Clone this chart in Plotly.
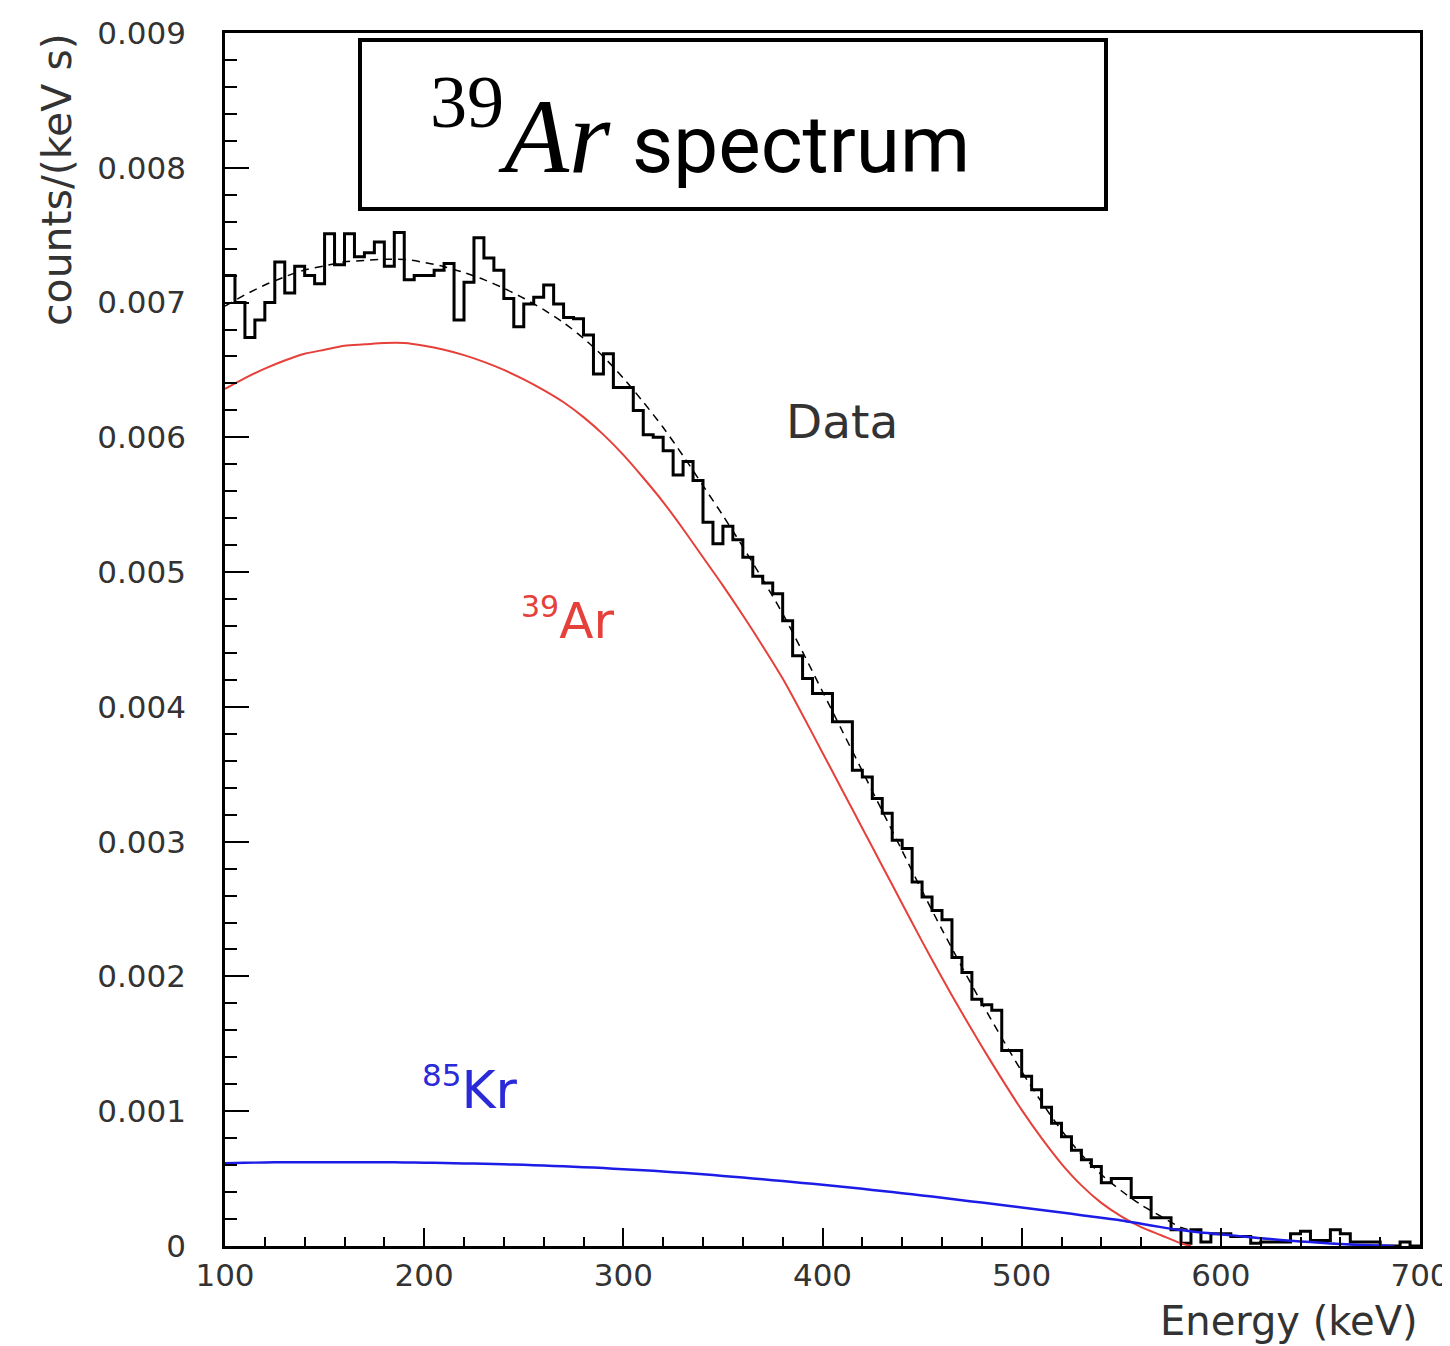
import numpy as np
import plotly.graph_objects as go

# ---------------- data ----------------
# histogram: 5 keV bins from 100 to 700 keV (counts/(keV s))
bin_width = 5
bin_left = np.arange(100, 700, bin_width)
data_counts = [
    0.00720, 0.00700, 0.00674, 0.00687, 0.00700, 0.00730, 0.00707, 0.00727, 0.00720, 0.00714,
    0.00751, 0.00728, 0.00751, 0.00734, 0.00737, 0.00745, 0.00727, 0.00752, 0.00717, 0.00720,
    0.00720, 0.00724, 0.00729, 0.00687, 0.00715, 0.00748, 0.00733, 0.00724, 0.00703, 0.00682,
    0.00699, 0.00704, 0.00713, 0.00699, 0.00689, 0.00688, 0.00676, 0.00647, 0.00662, 0.00637,
    0.00637, 0.00620, 0.00602, 0.00600, 0.00590, 0.00572, 0.00582, 0.00568, 0.00537, 0.00521,
    0.00534, 0.00524, 0.00511, 0.00497, 0.00492, 0.00484, 0.00464, 0.00438, 0.00421, 0.00410,
    0.00410, 0.00389, 0.00389, 0.00353, 0.00348, 0.00332, 0.00321, 0.00301, 0.00295, 0.00270,
    0.00259, 0.00249, 0.00242, 0.00214, 0.00203, 0.00183, 0.00179, 0.00175, 0.00145, 0.00145,
    0.00126, 0.00116, 0.00103, 0.00091, 0.00081, 0.00071, 0.00064, 0.00059, 0.00047, 0.00050,
    0.00050, 0.00036, 0.00036, 0.00021, 0.00021, 0.00012, 0.00002, 0.00012, 0.00003, 0.00009,
    0.00009, 0.00007, 0.00007, 0.00002, 0.00003, 0.00003, 0.00003, 0.00009, 0.00011, 0.00004,
    0.00004, 0.00012, 0.00009, 0.00003, 0.00003, 0.00003, 0.00000, 0.00000, 0.00003, 0.00000,
]

# 39Ar component (red)
ar_energy = [100, 110, 120, 130, 140, 150, 160, 170, 180, 190, 200, 210, 220, 230, 240, 250,
             260, 270, 280, 290, 300, 310, 320, 330, 340, 350, 360, 370, 380, 390, 400, 410,
             420, 430, 440, 450, 460, 470, 480, 490, 500, 510, 520, 530, 540, 550, 560, 570,
             580, 585]
ar_counts = [0.00636, 0.00644, 0.00651, 0.00657, 0.00662, 0.00665, 0.00668, 0.00669, 0.00670,
             0.00670, 0.00668, 0.00665, 0.00661, 0.00656, 0.00650, 0.00643, 0.00635, 0.00626,
             0.00615, 0.00602, 0.00587, 0.00570, 0.00552, 0.00532, 0.00511, 0.00490, 0.00468,
             0.00445, 0.00421, 0.00394, 0.00366, 0.00338, 0.00310, 0.00282, 0.00254, 0.00226,
             0.00199, 0.00173, 0.00148, 0.00124, 0.00101, 0.00080, 0.00061, 0.00045, 0.00032,
             0.00022, 0.00014, 0.00008, 0.00002, 0.0]

# 85Kr component (blue)
kr_energy = [100, 110, 120, 130, 140, 150, 160, 170, 180, 190, 200, 210, 220, 230, 240, 250,
             260, 270, 280, 290, 300, 310, 320, 330, 340, 350, 360, 370, 380, 390, 400, 410,
             420, 430, 440, 450, 460, 470, 480, 490, 500, 510, 520, 530, 540, 550, 560, 570,
             580, 590, 600, 610, 620, 630, 640, 650, 660, 670, 680, 687]
kr_counts = [0.000614, 0.000617, 0.000620, 0.000621, 0.000622, 0.000622, 0.000622, 0.000622,
             0.000621, 0.000620, 0.000618, 0.000616, 0.000613, 0.000610, 0.000606, 0.000602,
             0.000597, 0.000591, 0.000585, 0.000578, 0.000570, 0.000562, 0.000553, 0.000543,
             0.000532, 0.000520, 0.000508, 0.000495, 0.000482, 0.000468, 0.000454, 0.000439,
             0.000424, 0.000408, 0.000392, 0.000375, 0.000358, 0.000340, 0.000322, 0.000304,
             0.000286, 0.000267, 0.000248, 0.000229, 0.000210, 0.000190, 0.000165, 0.000140,
             0.000118, 0.000100, 0.000088, 0.000072, 0.000058, 0.000045, 0.000034, 0.000024,
             0.000015, 0.000008, 0.000003, 0.0]

# total fit (dashed) = 39Ar + 85Kr
n_common = 49  # 100..580 keV shared grid
fit_energy = kr_energy
fit_counts = [a + k for a, k in zip(ar_counts[:n_common], kr_counts[:n_common])] + kr_counts[n_common:]

x_ticks = [100, 200, 300, 400, 500, 600, 700]
y_ticks = [0, 0.001, 0.002, 0.003, 0.004, 0.005, 0.006, 0.007, 0.008, 0.009]
y_ticktext = ["0", "0.001", "0.002", "0.003", "0.004", "0.005", "0.006", "0.007", "0.008", "0.009"]

# ---------------- figure ----------------
OFF = 8  # default page margin of the html body
PAGE_W, PAGE_H = 1450, 1346
W, H = PAGE_W - OFF, PAGE_H - OFF
# plot area in page pixels
PL, PR, PT, PB = 225, 1420, 33, 1246
ML, MR, MT, MB = PL - OFF, PAGE_W - PR, PT - OFF, PAGE_H - PB
PW, PH = PR - PL, PB - PT


def px(xp):
    return (xp - PL) / PW


def py(yp):
    return (PB - yp) / PH


hist_x = list(bin_left) + [700]
hist_y = list(data_counts) + [data_counts[-1]]

fig = go.Figure()
fig.add_trace(go.Scatter(x=hist_x, y=hist_y, mode="lines", line=dict(color="black", width=3, shape="hv"),
                         hoverinfo="skip", showlegend=False))
fig.add_trace(go.Scatter(x=fit_energy, y=fit_counts, mode="lines",
                         line=dict(color="black", width=1.5, dash="8px,6px", shape="spline", smoothing=0.8),
                         hoverinfo="skip", showlegend=False))
fig.add_trace(go.Scatter(x=ar_energy, y=ar_counts, mode="lines",
                         line=dict(color="#e5403a", width=2, shape="spline", smoothing=0.8),
                         hoverinfo="skip", showlegend=False))
fig.add_trace(go.Scatter(x=kr_energy, y=kr_counts, mode="lines",
                         line=dict(color="#1c1ce6", width=2.5, shape="spline", smoothing=0.8),
                         hoverinfo="skip", showlegend=False))

tickfont = dict(family="DejaVu Sans", size=31, color="#333333")

fig.update_xaxes(range=[100, 700], tickvals=x_ticks, ticktext=[str(v) for v in x_ticks],
                 ticks="inside", ticklen=18, tickwidth=2, tickcolor="black",
                 minor=dict(dtick=20, tick0=100, ticks="inside", ticklen=9, tickwidth=2, tickcolor="black"),
                 showline=True, linecolor="black", linewidth=2.5, mirror=True,
                 showgrid=False, zeroline=False, tickfont=tickfont, ticklabelstandoff=0,
                 automargin=False)
fig.update_yaxes(range=[0, 0.009], tickvals=y_ticks, ticktext=y_ticktext,
                 ticks="inside", ticklen=24, tickwidth=2, tickcolor="black",
                 minor=dict(dtick=0.0002, tick0=0, ticks="inside", ticklen=12, tickwidth=2, tickcolor="black"),
                 showline=True, linecolor="black", linewidth=2.5, mirror=True,
                 showgrid=False, zeroline=False, tickfont=tickfont, ticklabelstandoff=30,
                 automargin=False)

annotations = [
    # axis titles
    dict(text="Energy (keV)", xref="paper", yref="paper", x=px(1420), y=py(1346), xanchor="right",
         yanchor="bottom", showarrow=False, font=dict(family="DejaVu Sans", size=40, color="#333333")),
    dict(text="counts/(keV s)", xref="paper", yref="paper", x=px(57), y=py(180), xanchor="center",
         yanchor="middle", textangle=-90, showarrow=False,
         font=dict(family="DejaVu Sans", size=41, color="#333333")),
    # curve labels
    dict(text="Data", x=410, y=0.00612, xref="x", yref="y", showarrow=False,
         font=dict(family="DejaVu Sans", size=47, color="#333333")),
    dict(text="<sup><span style='font-size:30px'>39</span></sup>Ar", x=272, y=0.00465, xref="x", yref="y",
         showarrow=False, font=dict(family="DejaVu Sans", size=50, color="#e5403a")),
    dict(text="<sup><span style='font-size:31px'>85</span></sup>Kr", x=223, y=0.00117, xref="x", yref="y",
         showarrow=False, font=dict(family="DejaVu Sans", size=52, color="#2a2ad8")),
    # title box text
    dict(text="<sup>39</sup><i>Ar</i>", xref="paper", yref="paper", x=px(428), y=py(197),
         xanchor="left", yanchor="bottom", showarrow=False,
         font=dict(family="Liberation Serif", size=106, color="black")),
    dict(text="spectrum", xref="paper", yref="paper", x=px(630), y=py(194),
         xanchor="left", yanchor="bottom", showarrow=False,
         font=dict(family="Roboto", size=80, color="black")),
]

shapes = [
    dict(type="rect", xref="paper", yref="paper", x0=px(360), x1=px(1106), y0=py(209), y1=py(40),
         line=dict(color="black", width=4), fillcolor="white", layer="above"),
]

fig.update_layout(width=W, height=H, margin=dict(l=ML, r=MR, t=MT, b=MB, pad=0),
                  plot_bgcolor="white", paper_bgcolor="white",
                  annotations=annotations, shapes=shapes, showlegend=False)

fig.write_html("out.html")
